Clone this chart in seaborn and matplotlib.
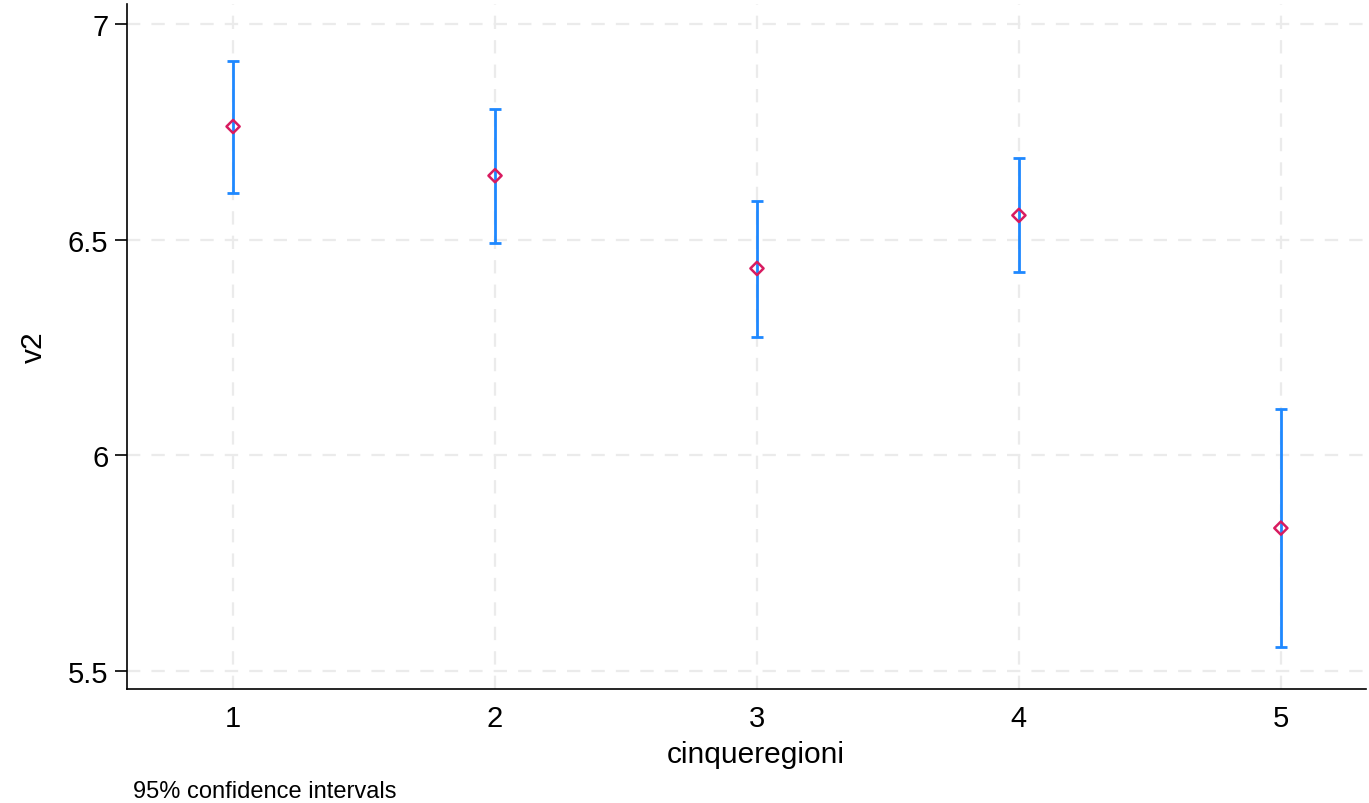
import numpy as np
import pandas as pd
import matplotlib
matplotlib.use('Agg')
import matplotlib.pyplot as plt
import seaborn as sns

# values
regions = [1, 2, 3, 4, 5]
means = [6.762, 6.648, 6.433, 6.556, 5.831]
ci_low = [6.609, 6.491, 6.273, 6.424, 5.556]
ci_high = [6.914, 6.803, 6.590, 6.688, 6.106]

df = pd.DataFrame({'cinqueregioni': regions, 'v2': means,
                   'lo': ci_low, 'hi': ci_high})

sns.set_style('white')
plt.rcParams['font.family'] = ['Liberation Sans', 'DejaVu Sans']
plt.rcParams['text.color'] = 'black'
plt.rcParams['axes.labelcolor'] = 'black'
plt.rcParams['xtick.color'] = 'black'
plt.rcParams['ytick.color'] = 'black'

fig = plt.figure(figsize=(13.69, 8.04), dpi=100)
ax = fig.add_axes([127 / 1369, 1 - 690 / 804, (1366 - 127) / 1369, (690 - 5) / 804])

blue = '#1E88FF'
ax.errorbar(df['cinqueregioni'], df['v2'],
            yerr=[df['v2'] - df['lo'], df['hi'] - df['v2']],
            fmt='none', ecolor=blue, elinewidth=2, capsize=4.5, capthick=2, zorder=3)
sns.scatterplot(data=df, x='cinqueregioni', y='v2', ax=ax, marker='D', s=45,
                facecolor='none', edgecolor='#D81B60', linewidth=1.8, zorder=4)

ax.set_xlim(0.595, 5.325)
ax.set_ylim(5.458, 7.046)
ax.set_xticks(regions)
ax.set_yticks([5.5, 6, 6.5, 7])
ax.set_yticklabels(['5.5', '6', '6.5', '7'])
ax.grid(True, color='#ebebeb', linestyle=(0, (6, 5)), linewidth=1.6)
ax.set_axisbelow(True)
sns.despine(ax=ax)
for s in ['left', 'bottom']:
    ax.spines[s].set_color('black')
    ax.spines[s].set_linewidth(1.2)
ax.tick_params(axis='y', direction='out', length=8.5, width=1.2,
               labelsize=21, pad=5, left=True)
ax.tick_params(axis='x', length=0, labelsize=21, pad=11)
ax.set_xlabel('cinqueregioni', fontsize=21.5)
ax.xaxis.set_label_coords((756 - 127) / (1366 - 127), -0.075)
ax.set_ylabel('v2', fontsize=21.5, labelpad=14)
fig.text(133 / 1369, 1 - 792 / 804, '95% confidence intervals', fontsize=17,
         va='center', ha='left')

fig.savefig('out.png', dpi=100)
